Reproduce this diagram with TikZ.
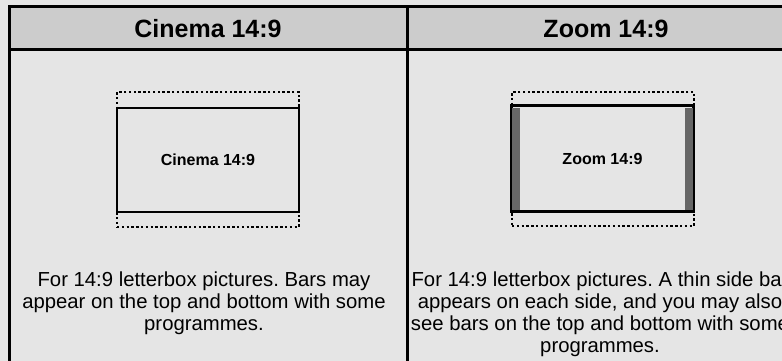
\documentclass[tikz,border=0pt]{standalone}
\usepackage{fontspec}
\setmainfont{Liberation Sans}
\usepackage{xcolor}
\usetikzlibrary{positioning, calc}

\definecolor{cellgray}{HTML}{E5E5E5}
\definecolor{headgray}{HTML}{CCCCCC}
\definecolor{bargray}{HTML}{666666}

\frenchspacing

\begin{document}
\begin{tikzpicture}[
    x=1pt, y=-1pt,
    headcell/.style={
        rectangle, draw=black, line width=3pt, fill=headgray,
        minimum width=398pt, minimum height=43pt, inner sep=0pt,
        font=\fontsize{25}{29}\selectfont\bfseries
    },
    bodycell/.style={
        rectangle, draw=black, line width=3pt, fill=cellgray,
        minimum width=398pt, minimum height=360pt, inner sep=0pt
    },
    safearea/.style={
        rectangle, draw=black, line width=2pt,
        dash pattern=on 2.4pt off 2.4pt,
        minimum width=182pt, minimum height=135pt, inner sep=0pt
    },
    screen/.style={
        rectangle, draw=black, line width=2pt, fill=cellgray,
        minimum width=182pt, minimum height=104pt, inner sep=0pt,
        font=\fontsize{16}{19}\selectfont\bfseries
    },
    sidebar/.style={
        rectangle, fill=bargray, minimum width=8pt,
        minimum height=102pt, inner sep=0pt
    },
    caption/.style={
        align=center, inner sep=0pt, anchor=north,
        font=\fontsize{20.3}{22}\selectfont
    }
]

% 0. Page and clipping
\fill[cellgray] (0,0) rectangle (782,361);
\useasboundingbox (0,0) rectangle (782,361);
\clip (0,0) rectangle (782,361);

% 1. Table cells (the table runs on past the right and bottom edges)
\node[bodycell, anchor=north west] (bcinema) at (7.5, 48.5) {};
\node[bodycell, anchor=north west] (bzoom) at (405.5, 48.5) {};
\node[headcell, anchor=north west] (hcinema) at (7.5, 5.5) {Cinema 14:9};
\node[headcell, anchor=north west] (hzoom) at (405.5, 5.5) {Zoom 14:9};

% 2. Cinema 14:9 picture: dotted safe area, solid screen
\node[safearea, anchor=north west] (csafe) at (116, 91) {};
\node[screen, anchor=north west] (cscreen) at (116, 107) {Cinema 14:9};

% 3. Zoom 14:9 picture, with a thin bar on each side
\node[safearea, anchor=north west, minimum height=134pt] (zsafe) at (511, 91) {};
\node[screen, anchor=north west, minimum width=181pt, minimum height=105pt] (zscreen) at (511, 105) {Zoom 14:9};
\node[sidebar, anchor=west] (zbarl) at ([xshift=1pt]zscreen.west) {};
\node[sidebar, anchor=east] (zbarr) at ([xshift=-1pt]zscreen.east) {};
\draw[line width=2pt] (zscreen.north west) rectangle (zscreen.south east);

% 4. Captions
\node[caption] (tcinema) at (204, 272) {
    For 14:9 letterbox pictures. Bars may \\
    appear on the top and bottom with some \\
    programmes.
};
\node[caption] (tzoom) at (600, 272) {
    For 14:9 letterbox pictures. A thin side bar \\
    appears on each side, and you may also \\
    see bars on the top and bottom with some \\
    programmes.
};

\end{tikzpicture}
\end{document}
